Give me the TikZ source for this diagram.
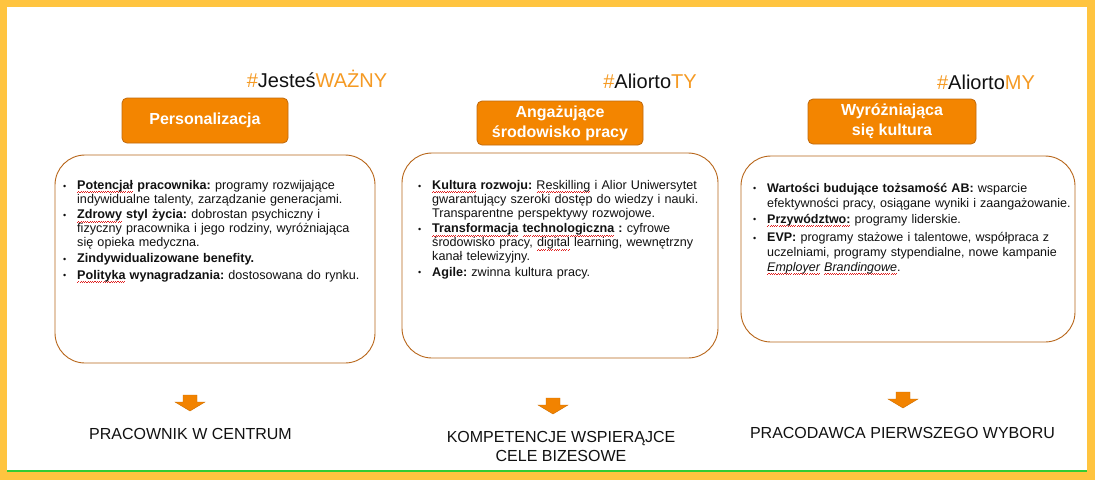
\documentclass[tikz,border=0pt]{standalone}
\usepackage{fontspec}
\setmainfont{Liberation Sans}
\usepackage{xcolor}
\definecolor{frameYel}{HTML}{FFC43F}
\definecolor{lineGrn}{HTML}{33CC33}
\definecolor{tagOr}{HTML}{F59A23}
\definecolor{headFill}{HTML}{F38500}
\definecolor{headFr}{HTML}{C0690C}
\definecolor{panelFr}{HTML}{B8661A}
\definecolor{arrOr}{HTML}{F28300}
\definecolor{ink}{HTML}{111111}
\definecolor{spellRed}{HTML}{E02020}
\usepackage{tikz}
\usetikzlibrary{positioning}
% red wavy spell-check mark
\newlength{\spellw}
\newcommand{\spell}[1]{\settowidth{\spellw}{#1}\leavevmode\rlap{\color{spellRed}%
  \xleaders\hbox{\rule[-3.2pt]{1.1pt}{0.45pt}\rule[-2.5pt]{1.1pt}{0.45pt}}\hskip\spellw}#1}
% bullet point with hanging indent
\newcommand{\pkt}[1]{\par\noindent
  \makebox[16pt][l]{\hspace{2pt}\raisebox{0.3pt}{\fontsize{9}{9}\selectfont\textbullet}}%
  \parbox[t]{320pt}{\raggedright #1}\par}
\tikzset{
  panel/.style={draw=panelFr,line width=0.9pt,rounded corners=30pt,fill=white},
  headbox/.style={draw=headFr,line width=0.8pt,fill=headFill,rounded corners=5pt,
    text=white,font=\fontsize{16}{20}\selectfont\bfseries,align=center},
  tag/.style={font=\fontsize{20}{24}\selectfont,text=ink,inner sep=0pt},
  body/.style={anchor=north west,inner sep=0pt,text width=340pt,text=ink,
    font=\fontsize{12.6}{14}\selectfont\frenchspacing\setlength{\parskip}{2.7pt}},
  bodywide/.style={body,
    font=\fontsize{12.5}{15}\selectfont\frenchspacing\setlength{\parskip}{3.3pt}},
  lbl/.style={font=\fontsize{16}{19}\selectfont,text=ink,align=center,inner sep=0pt},
  downarr/.pic={\fill[arrOr,draw=arrOr!85!black,line width=0.4pt]
    (-7,0) -- (7,0) -- (7,7) -- (15,7) -- (0,16) -- (-15,7) -- (-7,7) -- cycle;}}

\begin{document}
\begin{tikzpicture}[x=1pt,y=-1pt]
  \useasboundingbox (0,0) rectangle (1095,480);
  % frame
  \fill[frameYel] (0,0) rectangle (1095,480);
  \fill[white] (7,7) rectangle (1087,472);
  \draw[lineGrn,line width=1.5pt] (7,471) -- (1087,471);

  % hashtags
  \node[tag,anchor=base] (g1) at (317,87) {\textcolor{tagOr}{\#}Jesteś\textcolor{tagOr}{WAŻNY}};
  \node[tag,anchor=base] (g2) at (650,88) {\textcolor{tagOr}{\#}Aliorto\textcolor{tagOr}{TY}};
  \node[tag,anchor=base] (g3) at (986,89) {\textcolor{tagOr}{\#}Aliorto\textcolor{tagOr}{MY}};

  % headers
  \node[headbox,minimum width=166pt,minimum height=45pt] (h1) at (205,120.5) {Personalizacja};
  \node[headbox,minimum width=166pt,minimum height=44pt] (h2) at (560,123) {Angażujące\\środowisko pracy};
  \node[headbox,minimum width=168pt,minimum height=45pt] (h3) at (892,121.5) {Wyróżniająca\\się kultura};

  % panels
  \node[panel,minimum width=320pt,minimum height=208pt] (p1) at (215,259) {};
  \node[panel,minimum width=316pt,minimum height=205pt] (p2) at (560,255.5) {};
  \node[panel,minimum width=334pt,minimum height=186pt] (p3) at (908,249) {};

  \node[body] (t1) at (61,172.5) {%
    \pkt{\textbf{\spell{Potencjał} pracownika:} programy rozwijające\\indywidualne talenty, zarządzanie generacjami.}
    \pkt{\textbf{\spell{Zdrowy} styl życia:} dobrostan psychiczny i\\fizyczny pracownika i jego rodziny, wyróżniająca\\się opieka medyczna.}
    \pkt{\textbf{Zindywidualizowane benefity.}}
    \pkt{\textbf{\spell{Polityka} wynagradzania:} dostosowana do rynku.}};
  \node[body] (t2) at (416,172.5) {%
    \pkt{\textbf{\spell{Kultura} rozwoju:} \spell{Reskilling} i Alior Uniwersytet\\gwarantujący szeroki dostęp do wiedzy i nauki.\\Transparentne perspektywy rozwojowe.}
    \pkt{\textbf{\spell{Transformacja} \spell{technologiczna} :} cyfrowe\\środowisko pracy, \spell{digital} learning, wewnętrzny\\kanał telewizyjny.}
    \pkt{\textbf{Agile:} zwinna kultura pracy.}};
  \node[bodywide] (t3) at (751,173.5) {%
    \pkt{\textbf{Wartości budujące tożsamość AB:} wsparcie\\efektywności pracy, osiągane wyniki i zaangażowanie.}
    \pkt{\textbf{\spell{Przywództwo:}} programy liderskie.}
    \pkt{\textbf{EVP:} programy stażowe i talentowe, współpraca z\\uczelniami, programy stypendialne, nowe kampanie\\\textit{\spell{Employer} \spell{Brandingowe}}.}};

  % arrows and outcomes
  \pic at (190,395) {downarr};
  \pic at (553,398) {downarr};
  \pic at (903,392) {downarr};
  \node[lbl] (o1) at (190.5,434) {PRACOWNIK W CENTRUM};
  \node[lbl] (o2) at (561,446.5) {KOMPETENCJE WSPIERĄJCE\\CELE BIZESOWE};
  \node[lbl] (o3) at (902.5,433) {PRACODAWCA PIERWSZEGO WYBORU};
\end{tikzpicture}
\end{document}
